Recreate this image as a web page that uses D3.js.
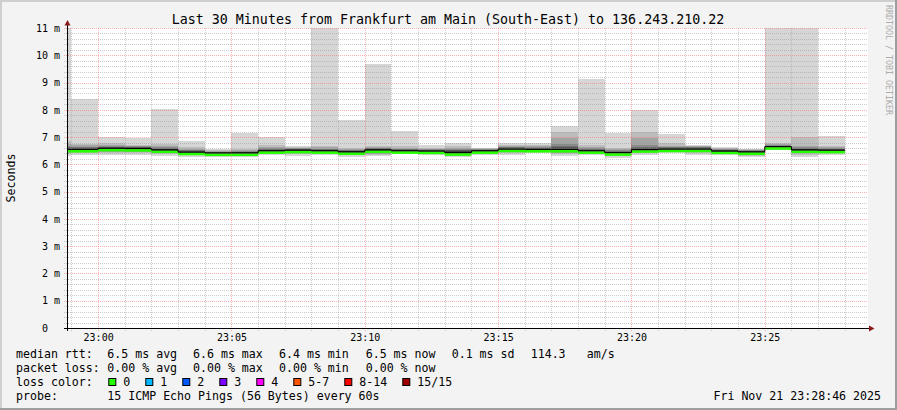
<!DOCTYPE html>
<html>
<head>
<meta charset="utf-8">
<script src="https://cdn.jsdelivr.net/npm/d3@7"></script>
<style>
  body { margin: 0; background: #f3f3f3; }
  text { font-family: "DejaVu Sans Mono", monospace; }
</style>
</head>
<body>
<script>
// one bar per minute, 15 sorted ping rtts (ms) each
var minutes = ["22:58","22:59","23:00","23:01","23:02","23:03","23:04","23:05","23:06","23:07",
               "23:08","23:09","23:10","23:11","23:12","23:13","23:14","23:15","23:16","23:17",
               "23:18","23:19","23:20","23:21","23:22","23:23","23:24","23:25","23:26","23:27"];

var medians = [6.55,6.55,6.59,6.58,6.53,6.45,6.42,6.42,6.50,6.52,
               6.50,6.46,6.53,6.50,6.49,6.43,6.50,6.56,6.55,6.55,
               6.50,6.43,6.54,6.56,6.56,6.49,6.46,6.65,6.53,6.52];

var pings = [
  [6.30,6.38,6.42,6.45,6.48,6.50,6.53,6.55,6.58,6.60,6.63,6.68,6.75,6.85,11.5],
  [6.36,6.42,6.45,6.48,6.50,6.52,6.54,6.55,6.57,6.60,6.62,6.65,6.70,6.76,8.39],
  [6.34,6.42,6.47,6.50,6.53,6.55,6.57,6.59,6.61,6.63,6.65,6.68,6.72,6.79,7.01],
  [6.34,6.42,6.46,6.50,6.52,6.54,6.56,6.58,6.60,6.62,6.64,6.66,6.68,6.70,6.98],
  [6.31,6.38,6.42,6.45,6.48,6.50,6.52,6.53,6.56,6.58,6.60,6.63,6.66,6.75,8.03],
  [6.28,6.34,6.37,6.40,6.42,6.43,6.44,6.45,6.47,6.49,6.51,6.54,6.57,6.62,6.86],
  [6.28,6.33,6.36,6.38,6.39,6.40,6.41,6.42,6.43,6.44,6.45,6.47,6.49,6.51,6.55],
  [6.28,6.33,6.36,6.38,6.40,6.41,6.42,6.42,6.44,6.45,6.47,6.49,6.52,6.56,7.16],
  [6.36,6.41,6.44,6.46,6.47,6.48,6.49,6.50,6.52,6.54,6.57,6.60,6.64,6.71,7.01],
  [6.30,6.38,6.42,6.45,6.47,6.49,6.51,6.52,6.54,6.56,6.57,6.59,6.61,6.63,6.67],
  [6.33,6.40,6.43,6.45,6.46,6.48,6.49,6.50,6.52,6.54,6.56,6.58,6.62,6.66,11.6],
  [6.27,6.33,6.37,6.40,6.42,6.44,6.45,6.46,6.48,6.50,6.52,6.54,6.56,6.60,7.63],
  [6.30,6.34,6.37,6.40,6.44,6.48,6.51,6.53,6.55,6.57,6.59,6.61,6.63,6.66,9.68],
  [6.38,6.42,6.44,6.46,6.47,6.48,6.49,6.50,6.52,6.54,6.56,6.58,6.61,6.66,7.22],
  [6.33,6.38,6.41,6.43,6.45,6.47,6.48,6.49,6.50,6.52,6.54,6.56,6.58,6.60,6.71],
  [6.27,6.32,6.36,6.39,6.41,6.42,6.43,6.43,6.50,6.51,6.53,6.56,6.60,6.66,6.77],
  [6.33,6.38,6.41,6.43,6.45,6.47,6.49,6.50,6.51,6.52,6.53,6.55,6.57,6.59,6.61],
  [6.34,6.40,6.44,6.48,6.51,6.53,6.55,6.56,6.58,6.60,6.62,6.64,6.67,6.72,6.78],
  [6.40,6.45,6.48,6.50,6.52,6.53,6.54,6.55,6.57,6.59,6.61,6.63,6.66,6.72,6.79],
  [6.30,6.38,6.43,6.47,6.50,6.52,6.54,6.55,6.58,6.62,6.68,6.76,6.97,7.19,7.41],
  [6.34,6.40,6.43,6.45,6.47,6.48,6.49,6.50,6.52,6.54,6.57,6.60,6.64,6.71,9.13],
  [6.25,6.32,6.36,6.38,6.40,6.41,6.42,6.43,6.45,6.47,6.49,6.52,6.55,6.59,7.16],
  [6.34,6.40,6.44,6.47,6.50,6.52,6.53,6.54,6.57,6.60,6.64,6.70,6.95,7.20,7.99],
  [6.40,6.44,6.47,6.50,6.52,6.54,6.55,6.56,6.58,6.60,6.62,6.65,6.69,6.77,7.11],
  [6.36,6.40,6.44,6.48,6.51,6.53,6.55,6.56,6.58,6.60,6.62,6.64,6.66,6.68,6.71],
  [6.33,6.37,6.40,6.42,6.44,6.46,6.47,6.49,6.50,6.52,6.54,6.56,6.58,6.61,6.64],
  [6.26,6.32,6.36,6.39,6.41,6.43,6.45,6.46,6.47,6.48,6.50,6.51,6.53,6.55,6.57],
  [6.52,6.56,6.59,6.61,6.62,6.63,6.64,6.65,6.66,6.67,6.68,6.70,6.73,6.79,11.5],
  [6.28,6.35,6.40,6.44,6.47,6.50,6.52,6.53,6.55,6.57,6.60,6.63,6.67,6.99,11.5],
  [6.34,6.40,6.44,6.47,6.49,6.50,6.51,6.52,6.54,6.56,6.58,6.60,6.63,6.66,7.04]
];

var yMajorTicks = [0,1,2,3,4,5,6,7,8,9,10,11];

var lossLabels = ["0","1","2","3","4","5-7","8-14","15/15"];
var lossColors = ["#26ff00","#00b8ff","#0059ff","#7e00ff","#ff00ff","#ff5500","#ff0000","#a00000"];

var statsRtt  = ["6.5 ms avg","6.6 ms max","6.4 ms min","6.5 ms now","0.1 ms sd","114.3","am/s"];
var statsLoss = ["0.00 % avg","0.00 % max","0.00 % min","0.00 % now"];

var titleText = "Last 30 Minutes from Frankfurt am Main (South-East) to 136.243.210.22";
var probeText = "15 ICMP Echo Pings (56 Bytes) every 60s";
var dateText  = "Fri Nov 21 23:28:46 2025";

var width = 897, height = 410;
var plot = {left: 67, right: 867, top: 28, bottom: 328};

var parseTime = d3.timeParse("%Y-%m-%d %H:%M:%S");
var tStart = parseTime("2025-11-21 22:58:50"),
    tEnd   = parseTime("2025-11-21 23:28:50");

var x = d3.scaleTime().domain([tStart, tEnd]).range([plot.left, plot.right]);
var y = d3.scaleLinear().domain([0, 11]).range([plot.bottom, plot.top]);

var shades = ["#d6d6d6","#bdbdbd","#a4a4a4","#8a8a8a","#717171","#585858","#3e3e3e"];

var bars = minutes.map(function(m, i){
  var t0 = parseTime("2025-11-21 " + m + ":00");
  return {t0: t0, t1: d3.timeMinute.offset(t0, 1), p: pings[i], med: medians[i]};
});

var svg = d3.select("body").append("svg")
  .attr("width", width).attr("height", height);

// background + frame
svg.append("rect").attr("width", width).attr("height", height).attr("fill", "#f3f3f3");
svg.append("rect").attr("x", 0).attr("y", 0).attr("width", width).attr("height", 2).attr("fill", "#cfcfcf");
svg.append("rect").attr("x", 0).attr("y", 0).attr("width", 2).attr("height", height).attr("fill", "#cfcfcf");
svg.append("rect").attr("x", 0).attr("y", height-2).attr("width", width).attr("height", 2).attr("fill", "#9e9e9e");
svg.append("rect").attr("x", width-2).attr("y", 0).attr("width", 2).attr("height", height).attr("fill", "#9e9e9e");

svg.append("rect")
  .attr("x", plot.left).attr("y", plot.top)
  .attr("width", plot.right - plot.left + 1).attr("height", plot.bottom - plot.top)
  .attr("fill", "#ffffff");

svg.append("clipPath").attr("id", "clip")
  .append("rect")
  .attr("x", plot.left).attr("y", plot.top)
  .attr("width", plot.right - plot.left + 1).attr("height", plot.bottom - plot.top);

// smoke
var smoke = svg.append("g").attr("clip-path", "url(#clip)").attr("shape-rendering", "crispEdges");
bars.forEach(function(b){
  var xa = Math.max(x(b.t0), plot.left), xb = x(b.t1);
  for (var k = 0; k < 7; k++) {
    smoke.append("rect")
      .attr("x", xa).attr("width", xb - xa)
      .attr("y", y(b.p[14-k]))
      .attr("height", y(b.p[k]) - y(b.p[14-k]))
      .attr("fill", shades[k]);
  }
});

// grid
var grid = svg.append("g").attr("shape-rendering", "crispEdges");
var minorY = d3.ticks(0, 11, 55).filter(function(v){ return Math.abs(v - Math.round(v)) > 1e-6; });
grid.selectAll(".hminor").data(minorY).enter().append("line")
  .attr("x1", plot.left - 3).attr("x2", plot.right + 1)
  .attr("y1", function(d){ return Math.round(y(d)) + 0.5; })
  .attr("y2", function(d){ return Math.round(y(d)) + 0.5; })
  .attr("stroke", "#9a9a9a").attr("stroke-opacity", 0.5).attr("stroke-dasharray", "1,1");

var minorX = x.ticks(d3.timeMinute.every(1)).filter(function(d){ return d.getMinutes() % 5 !== 0; });
grid.selectAll(".vminor").data(minorX).enter().append("line")
  .attr("y1", plot.top).attr("y2", plot.bottom + 3)
  .attr("x1", function(d){ return Math.round(x(d)) + 0.5; })
  .attr("x2", function(d){ return Math.round(x(d)) + 0.5; })
  .attr("stroke", "#9a9a9a").attr("stroke-opacity", 0.5).attr("stroke-dasharray", "1,1");

grid.selectAll(".hmajor").data(yMajorTicks.filter(function(d){ return d > 0; })).enter().append("line")
  .attr("x1", plot.left - 3).attr("x2", plot.right + 1)
  .attr("y1", function(d){ return Math.round(y(d)) + 0.5; })
  .attr("y2", function(d){ return Math.round(y(d)) + 0.5; })
  .attr("stroke", "#ff5050").attr("stroke-opacity", 0.45).attr("stroke-dasharray", "1,1");

var majorX = x.ticks(d3.timeMinute.every(5));
grid.selectAll(".vmajor").data(majorX).enter().append("line")
  .attr("y1", plot.top).attr("y2", plot.bottom + 3)
  .attr("x1", function(d){ return Math.round(x(d)) + 0.5; })
  .attr("x2", function(d){ return Math.round(x(d)) + 0.5; })
  .attr("stroke", "#ff5050").attr("stroke-opacity", 0.45).attr("stroke-dasharray", "1,1");

// median: green band + black step line
var med = svg.append("g").attr("clip-path", "url(#clip)");
bars.forEach(function(b){
  var xa = Math.max(x(b.t0), plot.left), xb = x(b.t1);
  med.append("rect")
    .attr("x", xa).attr("width", xb - xa)
    .attr("y", y(b.med) + 0.6).attr("height", 2.6)
    .attr("fill", lossColors[0]);
});
var medPts = [];
bars.forEach(function(b){
  medPts.push([Math.max(x(b.t0), plot.left), y(b.med)]);
  medPts.push([x(b.t1), y(b.med)]);
});
med.append("path")
  .attr("d", d3.line()(medPts))
  .attr("fill", "none").attr("stroke", "#000").attr("stroke-width", 1);

// axes
var yAxis = d3.axisLeft(y)
  .tickValues(yMajorTicks)
  .tickSize(0).tickPadding(7)
  .tickFormat(function(d){ return d === 0 ? "0\u00a0\u00a0" : d + " m"; });
var gy = svg.append("g").attr("transform", "translate(" + plot.left + ",0)").call(yAxis);
gy.select(".domain").remove();
gy.selectAll("text").attr("font-family", "DejaVu Sans Mono").attr("font-size", 10)
  .attr("fill", "#000").style("white-space", "pre");

var xAxis = d3.axisBottom(x)
  .ticks(d3.timeMinute.every(5))
  .tickSize(0).tickPadding(6)
  .tickFormat(d3.timeFormat("%H:%M"));
var gx = svg.append("g").attr("transform", "translate(0," + plot.bottom + ")").call(xAxis);
gx.select(".domain").remove();
gx.selectAll("text").attr("font-family", "DejaVu Sans Mono").attr("font-size", 10).attr("fill", "#000");

svg.append("line")
  .attr("x1", plot.left + 0.5).attr("x2", plot.left + 0.5)
  .attr("y1", plot.bottom + 3).attr("y2", 22)
  .attr("stroke", "#000").attr("shape-rendering", "crispEdges");
svg.append("line")
  .attr("x1", plot.left - 3).attr("x2", 870)
  .attr("y1", plot.bottom + 0.5).attr("y2", plot.bottom + 0.5)
  .attr("stroke", "#000").attr("shape-rendering", "crispEdges");
svg.append("path").attr("d", "M64.5,25.5 L70.5,25.5 L67.5,20 Z").attr("fill", "#8b1a1a");
svg.append("path").attr("d", "M869,325.5 L869,331.5 L874.5,328.5 Z").attr("fill", "#8b1a1a");

// title and side texts
svg.append("text")
  .attr("x", 448).attr("y", 24)
  .attr("text-anchor", "middle")
  .style("font-size", "13.3px")
  .text(titleText);

svg.append("text")
  .attr("transform", "translate(14.5,178) rotate(-90)")
  .attr("text-anchor", "middle")
  .style("font-size", "11.6px")
  .text("Seconds");

svg.append("text")
  .attr("transform", "translate(885.5,60) rotate(90)")
  .attr("text-anchor", "middle")
  .attr("fill", "#acacac")
  .style("font-size", "8.3px")
  .text("RRDTOOL / TOBI OETIKER");

// legend
var legend = svg.append("g").style("font-size", "11.6px").style("white-space", "pre");
var rowY = [358, 372, 386, 400];
var colX = [107.3, 193, 279, 365.7, 451.7, 530.7, 586.7];

legend.append("text").attr("x", 16).attr("y", rowY[0]).text("median rtt:");
statsRtt.forEach(function(s, i){
  legend.append("text").attr("x", colX[i]).attr("y", rowY[0]).text(s);
});
legend.append("text").attr("x", 16).attr("y", rowY[1]).text("packet loss:");
statsLoss.forEach(function(s, i){
  legend.append("text").attr("x", colX[i]).attr("y", rowY[1]).text(s);
});

legend.append("text").attr("x", 16).attr("y", rowY[2]).text("loss color:");
var cx = 108.3, cw = 7.0;
lossLabels.forEach(function(l, i){
  legend.append("rect")
    .attr("x", cx + 0.5).attr("y", 378.5).attr("width", 7).attr("height", 7)
    .attr("fill", lossColors[i]).attr("stroke", "#000").attr("stroke-width", 1);
  legend.append("text").attr("x", cx + 15).attr("y", rowY[2]).text(l);
  cx = cx + 15 + l.length * cw + 15;
});

legend.append("text").attr("x", 16).attr("y", rowY[3]).text("probe:");
legend.append("text").attr("x", colX[0]).attr("y", rowY[3]).text(probeText);
legend.append("text").attr("x", 881).attr("y", rowY[3]).attr("text-anchor", "end").text(dateText);
</script>
</body>
</html>
